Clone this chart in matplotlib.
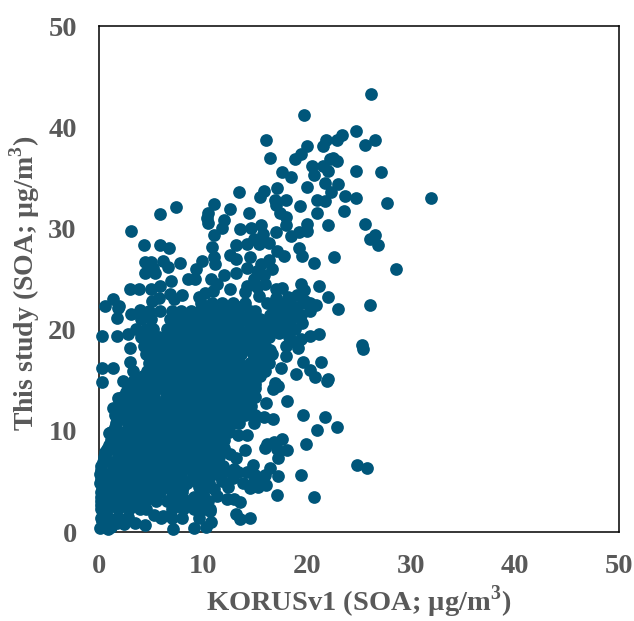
import numpy as np
from matplotlib import pyplot as plt

plt.rcParams['font.family'] = ['Liberation Serif', 'DejaVu Serif']
plt.rcParams['font.weight'] = 'bold'
plt.rcParams['mathtext.fontset'] = 'custom'
plt.rcParams['mathtext.bf'] = 'Liberation Serif:bold'
plt.rcParams['mathtext.rm'] = 'Liberation Serif:bold'

ticks = [0, 10, 20, 30, 40, 50]
x_label = r'KORUSv1 (SOA; µg/m$^{\mathbf{3}}$)'
y_label = r'This study (SOA; µg/m$^{\mathbf{3}}$)'

# pontos isolados, parte de cima
upper_pts = [
    (26.15, 43.3), (19.7, 41.2), (16.1, 38.7), (16.4, 37.0), (24.7, 39.6), (26.5, 38.7), (25.6, 38.2),
    (23.4, 39.2), (22.9, 38.7), (21.8, 38.7), (21.5, 38.1), (20.0, 38.1), (19.4, 37.4), (18.8, 36.9),
    (22.5, 37.0), (22.2, 36.9), (22.9, 36.7), (20.5, 36.2), (21.5, 36.2), (22.0, 35.7), (20.7, 35.3),
    (24.7, 35.7), (27.1, 35.6), (17.6, 35.6), (18.5, 35.1), (21.7, 34.5), (23.0, 34.4), (20.0, 34.1),
    (17.1, 34.0), (15.9, 33.7), (15.5, 33.1), (13.5, 33.6), (22.3, 33.6), (23.7, 33.2), (24.7, 33.0),
    (27.7, 32.5), (31.9, 33.0), (18.0, 32.8), (16.9, 32.8), (17.0, 32.3), (19.3, 32.2), (21.0, 32.8),
    (21.7, 32.7), (11.1, 32.4), (7.4, 32.1), (5.9, 31.4), (12.6, 31.9), (10.5, 31.5), (10.4, 31.0),
    (10.5, 30.5), (12.0, 30.8), (11.8, 30.0), (11.1, 29.3), (14.4, 31.5), (17.4, 31.5), (18.0, 31.1),
    (18.0, 30.3), (21.0, 31.5), (23.6, 31.7), (22.0, 30.3), (25.6, 30.4), (20.0, 30.4), (26.5, 29.3),
    (26.1, 29.0), (26.8, 28.4), (3.1, 29.7), (4.3, 28.4), (5.9, 28.4), (6.7, 28.1), (28.6, 26.0),
    (22.6, 27.2), (20.7, 26.6), (19.5, 27.3), (19.2, 28.1), (17.1, 27.8), (17.8, 27.3), (18.5, 29.2),
    (19.2, 29.6), (20.0, 29.7), (17.0, 29.6), (15.6, 30.3), (14.6, 30.0), (13.6, 29.9), (15.8, 29.4),
    (14.9, 29.0), (16.3, 28.6), (15.4, 28.5), (14.2, 28.5), (13.2, 28.4), (10.9, 28.2),
]

# pontos da faixa intermediaria
mid_pts = [
    (11.1, 27.2), (11.2, 26.5), (9.9, 26.8), (12.6, 27.4), (13.2, 27.0), (14.5, 27.2), (14.2, 26.1),
    (13.2, 25.6), (12.0, 25.4), (15.6, 26.5), (16.3, 26.9), (16.6, 26.0), (15.2, 25.8), (15.9, 25.4),
    (14.9, 25.0), (7.8, 26.6), (6.2, 26.8), (6.6, 26.2), (4.4, 26.7), (5.0, 26.7), (4.4, 25.6),
    (5.4, 25.6), (5.2, 26.1), (9.3, 26.0), (8.6, 25.0), (9.2, 25.0), (10.8, 25.0), (11.3, 24.5),
    (6.9, 24.8), (5.9, 24.3), (5.0, 24.0), (6.8, 23.5), (3.0, 24.0), (3.8, 24.0), (21.2, 24.3),
    (22.0, 23.2), (19.4, 24.5), (19.7, 23.9), (19.0, 23.4), (17.0, 24.0), (17.6, 24.1), (16.0, 24.5),
    (15.2, 24.2), (14.2, 24.3), (14.0, 23.7), (12.6, 24.0), (11.0, 23.8), (10.2, 23.6), (9.6, 23.2),
    (8.0, 23.4), (7.2, 23.0), (5.8, 23.1), (5.1, 22.8), (26.1, 22.4), (23.0, 22.0), (1.3, 23.0),
    (0.6, 22.3), (1.9, 22.3), (15.4, 23.3), (17.0, 23.1), (18.2, 23.2), (19.8, 22.8), (20.9, 22.4),
]

# bordas da nuvem e pontos soltos de baixo
lower_pts = [
    (1.8, 22.1), (1.7, 21.1), (3.1, 21.5), (3.9, 21.9), (0.3, 19.4), (1.7, 19.4), (2.8, 19.6),
    (3.0, 18.2), (0.3, 16.2), (1.3, 16.2), (0.3, 14.8), (3.0, 16.8), (3.3, 15.9), (2.3, 14.9),
    (1.8, 13.2), (1.3, 12.3), (0.95, 9.8), (0.6, 7.9), (19.5, 20.7), (21.2, 19.6), (20.3, 19.4),
    (19.4, 19.1), (19.1, 18.2), (18.0, 17.4), (19.6, 16.8), (21.3, 16.8), (18.9, 15.6), (20.3, 16.0),
    (20.8, 15.3), (21.9, 14.9), (22.0, 15.1), (25.3, 18.5), (25.4, 18.1), (17.5, 16.2), (16.9, 14.7),
    (16.7, 14.1), (17.2, 14.4), (18.1, 12.9), (16.1, 12.7), (15.9, 11.4), (16.7, 11.2), (19.6, 11.6),
    (21.7, 11.4), (21.0, 10.1), (22.9, 10.4), (14.9, 10.8), (14.2, 9.6), (13.4, 9.6), (19.9, 8.7),
    (17.6, 9.2), (16.8, 8.9), (16.0, 8.3), (16.2, 8.7), (18.1, 8.1), (17.2, 7.3), (17.1, 8.2),
    (14.0, 8.1), (13.2, 7.3), (14.8, 6.6), (16.4, 6.3), (17.2, 5.5), (24.8, 6.6), (25.8, 6.3),
    (19.4, 5.6), (20.7, 3.5), (17.1, 3.7), (16.1, 4.6), (14.5, 4.3), (15.3, 4.4), (14.2, 5.9),
    (15.0, 5.6), (16.0, 5.6), (12.9, 5.3), (13.8, 4.8), (11.1, 4.2), (12.3, 3.3), (13.6, 3.0),
    (13.0, 3.3), (13.2, 1.8), (14.5, 1.4), (13.6, 1.3), (10.8, 1.0), (10.3, 0.5), (9.1, 0.4),
    (7.1, 0.3), (6.2, 1.6), (5.3, 1.7), (4.4, 0.7), (3.5, 0.9), (2.4, 0.8), (0.9, 0.3), (0.1, 0.4),
    (0.3, 1.1), (10.7, 2.1), (11.9, 6.5), (12.6, 7.7), (12.0, 8.3), (11.3, 3.6), (11.8, 5.0),
    (12.4, 4.4), (11.5, 5.6), (13.0, 6.2), (12.2, 6.0), (13.4, 5.9), (14.9, 5.0), (15.6, 5.2),
    (2.8, 1.5), (1.2, 0.5), (1.7, 0.9), (0.5, 0.7),
]

# nucleo denso, linha a linha
core_y = [22.6, 21.8, 21.0, 20.1, 19.3, 18.4, 17.6, 16.7, 15.9, 15.0, 14.2, 13.3, 12.5, 11.6,
          10.8, 9.9, 9.1, 8.2, 7.4, 6.5, 5.7, 4.8, 4.0, 3.1, 2.3, 1.4]
core_x = [
    [9.8, 10.9, 11.8, 12.9, 14.0, 16.2, 17.3, 18.4, 19.6, 20.3],
    [4.8, 5.9, 7.0, 7.9, 8.8, 9.7, 10.4, 11.3, 12.4, 13.4, 14.5, 15.0, 16.8, 17.8, 18.9, 20.3],
    [4.0, 5.0, 6.8, 7.6, 8.6, 9.9, 10.9, 11.9, 12.9, 13.9, 15.0, 15.5, 16.5, 17.5, 18.5],
    [3.6, 4.5, 5.2, 6.5, 7.3, 8.2, 9.4, 10.4, 11.4, 12.4, 13.4, 14.4, 15.5, 15.9, 16.8, 17.8, 18.8],
    [4.0, 5.0, 5.8, 6.8, 7.8, 8.9, 9.9, 10.9, 11.9, 12.9, 13.9, 14.5, 15.3, 16.3, 18.3],
    [4.3, 5.3, 6.3, 7.3, 8.4, 9.4, 10.4, 11.4, 12.4, 13.4, 14.0, 15.0, 16.0, 18.0],
    [4.5, 5.8, 6.8, 7.9, 8.9, 9.9, 10.9, 11.9, 12.9, 13.7, 14.8, 15.7, 16.6],
    [4.8, 5.3, 6.3, 7.4, 8.4, 9.4, 10.4, 11.4, 12.4, 13.5, 14.5, 15.5, 16.3],
    [4.6, 5.8, 6.8, 7.9, 8.9, 9.9, 10.9, 11.9, 12.9, 14.0, 15.0, 16.0],
    [3.4, 4.3, 5.3, 6.3, 7.4, 8.4, 9.4, 10.4, 11.4, 12.4, 13.4, 14.5],
    [2.8, 3.8, 4.8, 5.8, 6.9, 7.9, 8.9, 9.9, 10.9, 11.9, 12.9, 14.0, 15.0],
    [2.2, 3.3, 4.3, 5.3, 6.4, 7.4, 8.4, 9.4, 10.4, 11.4, 12.4, 13.5, 14.5, 15.0],
    [1.8, 2.8, 3.8, 4.8, 5.9, 6.9, 7.9, 8.9, 9.9, 10.9, 11.9, 13.0, 14.0, 14.6],
    [1.5, 2.3, 3.3, 4.3, 5.4, 6.4, 7.4, 8.4, 9.4, 10.4, 11.4, 12.5, 13.5, 14.0, 15.0],
    [1.6, 2.8, 3.8, 4.9, 5.9, 6.9, 7.9, 8.9, 9.9, 10.9, 12.0, 13.0, 13.5],
    [1.2, 2.3, 3.3, 4.4, 5.4, 6.4, 7.4, 8.4, 9.4, 10.4, 11.5, 12.5],
    [1.2, 1.8, 2.8, 3.9, 4.9, 5.9, 6.9, 7.9, 8.9, 9.9, 11.0, 12.0],
    [0.8, 1.3, 2.3, 3.4, 4.4, 5.4, 6.4, 7.4, 8.4, 9.4, 10.5, 11.7],
    [0.5, 1.8, 2.9, 3.9, 4.9, 5.9, 6.9, 7.9, 8.9, 10.0, 11.0, 11.5],
    [0.2, 1.3, 2.4, 3.4, 4.4, 5.4, 6.4, 7.4, 8.4, 9.5, 10.5, 11.3],
    [0.1, 0.8, 1.9, 2.9, 3.9, 4.9, 5.9, 6.9, 7.9, 9.0, 10.0, 11.0],
    [0.1, 1.3, 2.4, 3.4, 4.4, 5.4, 6.4, 7.4, 8.5, 9.5, 10.6],
    [0.2, 0.9, 1.9, 2.9, 3.9, 4.9, 5.9, 7.0, 8.0, 10.0],
    [0.2, 1.3, 2.3, 3.4, 4.4, 5.5, 6.5, 7.5, 8.6, 9.6, 10.5],
    [0.2, 0.8, 1.8, 2.9, 3.9, 4.5, 7.0, 8.1, 9.1, 10.1, 10.7],
    [0.2, 1.0, 1.8, 6.0, 7.0, 8.0, 9.6],
]

# segunda passada no nucleo, preenche os buracos
fill_y = [22.2, 21.4, 20.6, 19.7, 18.9, 18.0, 17.2, 16.3, 15.4, 14.6, 13.8, 12.9, 12.0, 11.2,
          10.4, 9.5, 8.6, 7.8, 6.9, 6.1, 5.2, 4.4, 3.5, 2.7]
fill_x = [
    [10.3, 11.4, 12.4, 13.5, 16.7, 17.8, 18.9],
    [8.1, 9.2, 10.2, 11.3, 12.4, 13.4, 14.4, 16.4, 17.3, 18.4, 19.4],
    [7.2, 8.2, 9.2, 10.4, 11.4, 12.4, 13.4, 14.5, 16.0, 17.0, 18.0],
    [6.9, 7.9, 8.8, 9.9, 10.9, 11.9, 12.9, 13.9, 14.9, 16.4, 17.3, 18.3],
    [5.3, 6.3, 7.3, 8.4, 9.4, 10.4, 11.4, 12.4, 13.4, 14.2, 15.8, 18.6],
    [4.8, 5.8, 6.8, 7.9, 8.9, 9.9, 10.9, 11.9, 12.9, 13.8, 15.3, 16.4],
    [5.0, 6.3, 7.3, 8.4, 9.4, 10.4, 11.4, 12.4, 13.4, 15.2, 16.1],
    [5.3, 5.9, 6.8, 7.9, 8.9, 9.9, 10.9, 11.9, 12.9, 13.9, 15.0],
    [4.2, 5.2, 6.3, 7.4, 8.4, 9.4, 10.4, 11.4, 12.4, 13.4, 14.4, 15.5],
    [3.8, 4.8, 5.8, 6.9, 7.9, 8.9, 9.9, 10.9, 11.9, 12.9, 14.0, 15.0],
    [2.6, 3.3, 4.3, 5.3, 6.4, 7.4, 8.4, 9.4, 10.4, 11.4, 12.4, 13.5, 14.5],
    [2.2, 3.3, 4.3, 5.4, 6.4, 7.4, 8.4, 9.4, 10.4, 11.4, 12.5, 13.5, 14.3],
    [1.9, 2.8, 3.8, 4.9, 5.9, 6.9, 7.9, 8.9, 9.9, 10.9, 12.0, 13.0],
    [1.7, 2.3, 3.4, 4.4, 5.4, 6.4, 7.4, 8.4, 9.4, 10.5, 11.5, 12.5, 13.4],
    [1.5, 2.9, 3.9, 4.9, 5.9, 6.9, 7.9, 8.9, 10.0, 11.0, 12.2],
    [1.6, 2.4, 3.4, 4.4, 5.4, 6.4, 7.4, 8.4, 9.5, 10.5, 11.6],
    [1.0, 2.3, 3.4, 4.4, 5.4, 6.4, 7.4, 8.4, 9.4, 10.5, 11.4],
    [0.7, 1.9, 2.9, 3.9, 4.9, 5.9, 6.9, 7.9, 9.0, 10.0, 11.1],
    [0.4, 1.3, 2.4, 3.4, 4.4, 5.4, 6.4, 7.4, 8.5, 9.5, 10.6],
    [0.2, 1.4, 2.9, 3.9, 4.9, 5.9, 6.9, 8.0, 9.0, 10.0],
    [0.2, 1.0, 1.9, 2.9, 3.9, 4.9, 5.9, 7.0, 8.0, 9.1, 10.1],
    [0.3, 1.4, 2.4, 3.4, 4.4, 5.4, 6.5, 7.5, 8.1, 9.6],
    [0.2, 0.9, 1.9, 2.9, 3.9, 4.9, 7.0, 8.0, 9.1, 10.1],
    [0.2, 1.3, 2.4, 3.4, 4.2, 7.5, 8.6, 9.6, 10.4],
]

core_pts = []
for y, xs in zip(core_y + fill_y, core_x + fill_x):
    for x in xs:
        core_pts.append((x, y))

pts = np.array(upper_pts + mid_pts + lower_pts + core_pts)

fig = plt.figure(figsize=(6.34, 6.21), dpi=100)
ax = fig.add_axes([99 / 634, 1 - 532 / 621, 520 / 634, 506 / 621])

ax.scatter(pts[:, 0], pts[:, 1], s=84, color='#00567A', linewidths=0, clip_on=False, zorder=5)

ax.set_xlim(0, 50)
ax.set_ylim(0, 50)
ax.set_xticks(ticks)
ax.set_yticks(ticks)
ax.tick_params(length=0, labelsize=20.5, labelcolor='#595959', pad=16)
for s in ax.spines.values():
    s.set_linewidth(1.1)
    s.set_color('black')

ax.set_xlabel(x_label, fontsize=20.5, color='#595959', fontweight='bold')
ax.set_ylabel(y_label, fontsize=20, color='#595959', fontweight='bold')
ax.xaxis.set_label_coords(0.5, -0.102)
ax.yaxis.set_label_coords(-0.11, 0.492)

plt.savefig('out.png', dpi=100)
